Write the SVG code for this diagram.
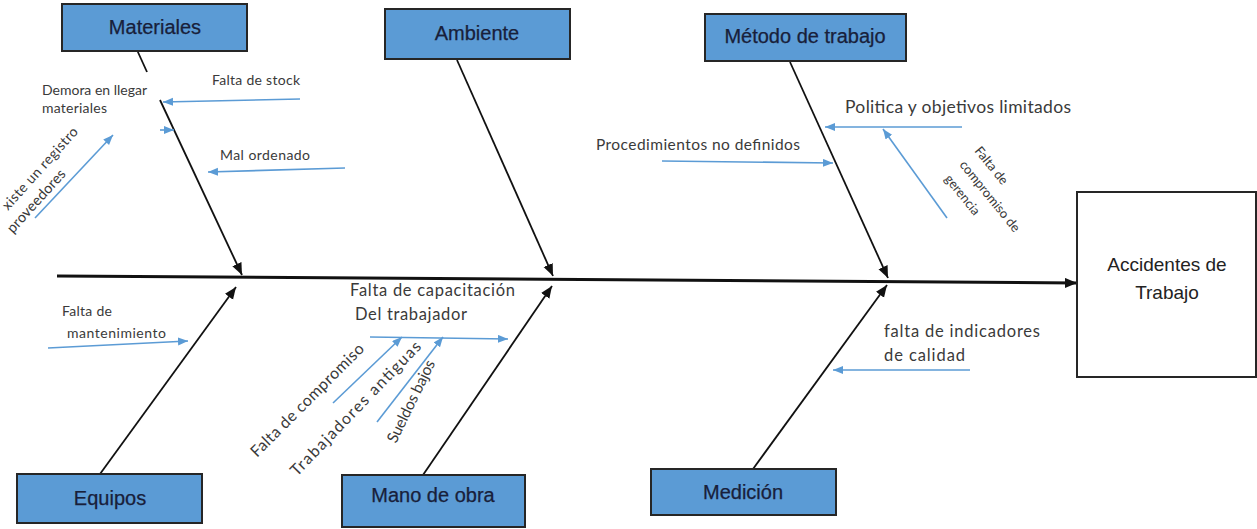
<svg xmlns="http://www.w3.org/2000/svg" width="1257" height="529" viewBox="0 0 1257 529">
<style>
.cat rect{fill:#5b9bd5;stroke:#262626;stroke-width:2}
.cat text{font-family:"Liberation Sans",Arial,sans-serif;font-size:20px;fill:#18203a;text-anchor:middle;stroke:#18203a;stroke-width:0.25}
.bone{stroke:#111;stroke-width:1.8;fill:none}
.spine{stroke:#111;stroke-width:3;fill:none}
.sub{stroke:#5b9bd5;stroke-width:1.6;fill:none}
.lbl{font-family:Lato,"Open Sans",sans-serif;fill:#3a3a3a}
</style>
<defs>
<marker id="ab" markerUnits="userSpaceOnUse" markerWidth="14" markerHeight="12" refX="12" refY="5" orient="auto"><path d="M0,0 L12,5 L0,10 z" fill="#111"/></marker>
<marker id="abl" markerUnits="userSpaceOnUse" markerWidth="12" markerHeight="10" refX="10" refY="4" orient="auto"><path d="M0,0 L10,4 L0,8 z" fill="#5b9bd5"/></marker>
</defs>
<rect width="1257" height="529" fill="#fff"/>

<g id="connectors">
<line class="spine" x1="57" y1="276" x2="1077" y2="283" marker-end="url(#ab)"/>
<line class="bone" x1="137" y1="50" x2="147" y2="72"/>
<line class="bone" x1="160" y1="100" x2="242" y2="275" marker-end="url(#ab)"/>
<line class="bone" x1="457" y1="60" x2="553" y2="276" marker-end="url(#ab)"/>
<line class="bone" x1="790" y1="62" x2="888" y2="278" marker-end="url(#ab)"/>
<line class="bone" x1="100" y1="474" x2="236" y2="287" marker-end="url(#ab)"/>
<line class="bone" x1="423" y1="475" x2="552" y2="286" marker-end="url(#ab)"/>
<line class="bone" x1="753" y1="469" x2="887" y2="285" marker-end="url(#ab)"/>

<line class="sub" x1="300" y1="99" x2="163" y2="102" marker-end="url(#abl)"/>
<line class="sub" x1="160" y1="130" x2="174" y2="130" marker-end="url(#abl)"/>
<line class="sub" x1="345" y1="168" x2="208" y2="172" marker-end="url(#abl)"/>
<line class="sub" x1="35" y1="218" x2="113" y2="135" marker-end="url(#abl)"/>
<line class="sub" x1="962" y1="127" x2="825" y2="127" marker-end="url(#abl)"/>
<line class="sub" x1="947" y1="218" x2="883" y2="129" marker-end="url(#abl)"/>
<line class="sub" x1="662" y1="161" x2="833" y2="163" marker-end="url(#abl)"/>
<line class="sub" x1="48" y1="348" x2="188" y2="341" marker-end="url(#abl)"/>
<line class="sub" x1="370" y1="337" x2="508" y2="339" marker-end="url(#abl)"/>
<line class="sub" x1="333" y1="403" x2="402" y2="337" marker-end="url(#abl)"/>
<line class="sub" x1="377" y1="422" x2="443" y2="337" marker-end="url(#abl)"/>
<line class="sub" x1="970" y1="370" x2="833" y2="370" marker-end="url(#abl)"/>
</g>

<g id="materiales" class="cat"><rect x="62" y="4" width="185" height="47"/><text x="155" y="34">Materiales</text></g>
<g id="ambiente" class="cat"><rect x="385" y="9" width="185" height="50"/><text x="477" y="40">Ambiente</text></g>
<g id="metodo" class="cat"><rect x="705" y="14" width="201" height="47"/><text x="805" y="43">Método de trabajo</text></g>
<g id="equipos" class="cat"><rect x="17" y="474" width="185" height="49"/><text x="110" y="505">Equipos</text></g>
<g id="mano" class="cat"><rect x="342" y="475" width="183" height="52"/><text x="433" y="502">Mano de obra</text></g>
<g id="medicion" class="cat"><rect x="651" y="469" width="185" height="46"/><text x="743" y="499">Medición</text></g>

<g id="efecto">
<rect x="1077" y="192" width="179" height="185" fill="#fff" stroke="#262626" stroke-width="2"/>
<text x="1167" y="271" font-family="Liberation Sans,Arial,sans-serif" font-size="19" fill="#222" text-anchor="middle">Accidentes de</text>
<text x="1167" y="299" font-family="Liberation Sans,Arial,sans-serif" font-size="19" fill="#222" text-anchor="middle">Trabajo</text>
</g>

<g id="causas-materiales" class="lbl" font-size="14">
<text x="212" y="85" textLength="88">Falta de stock</text>
<text x="42" y="95" textLength="105">Demora en llegar</text>
<text x="42" y="113" textLength="65">materiales</text>
<text x="220" y="160" textLength="90">Mal ordenado</text>
<text transform="translate(8,211) rotate(-48)" font-size="14" textLength="106">xiste un registro</text>
<text transform="translate(13,234) rotate(-48)" font-size="14.5" textLength="80">proveedores</text>
</g>

<g id="causas-metodo" class="lbl">
<text x="845" y="113" font-size="17.5" textLength="226">Politica y objetivos limitados</text>
<text x="596" y="150" font-size="15.5" textLength="204">Procedimientos no definidos</text>
<text transform="translate(974,151) rotate(51)" font-size="13">Falta de</text>
<text transform="translate(959,165) rotate(51)" font-size="13">compromiso de</text>
<text transform="translate(944,179) rotate(51)" font-size="13">gerencia</text>
</g>

<g id="causas-equipos" class="lbl" font-size="14">
<text x="62" y="316" textLength="50">Falta de</text>
<text x="67" y="338" textLength="99">mantenimiento</text>
</g>

<g id="causas-mano" class="lbl" font-size="16.5">
<text x="350" y="296" textLength="165">Falta de capacitación</text>
<text x="355" y="320" textLength="112">Del trabajador</text>
<text transform="translate(257,458) rotate(-45)" font-size="16" textLength="153">Falta de compromiso</text>
<text transform="translate(297,477) rotate(-46)" font-size="16" textLength="180">Trabajadores antiguas</text>
<text transform="translate(396,444) rotate(-64)" font-size="15.5" textLength="90">Sueldos bajos</text>
</g>

<g id="causas-medicion" class="lbl" font-size="16.5">
<text x="884" y="337" textLength="156">falta de indicadores</text>
<text x="884" y="361" textLength="81">de calidad</text>
</g>
</svg>
